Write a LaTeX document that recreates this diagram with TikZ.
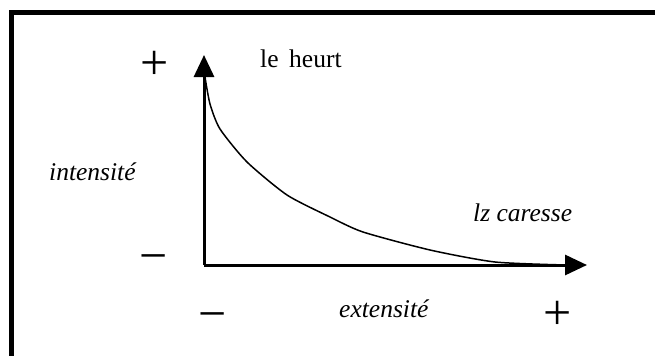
\documentclass[tikz,border=0pt]{standalone}
\usepackage{fontspec}
\setmainfont{Liberation Serif}
\usetikzlibrary{arrows.meta}

\tikzset{
  lbl/.style={font=\fontsize{25.5}{30}\selectfont, inner sep=0pt, anchor=base west},
  sign/.style={font=\fontsize{50}{54}\selectfont, inner sep=0pt, anchor=base},
  axis/.style={line width=3pt, -{Triangle[length=22pt,width=20pt]}},
}

\begin{document}
\begin{tikzpicture}[x=1pt, y=-1pt]
  \useasboundingbox (0,0) rectangle (655,356);

  % frame (only top and left edges show)
  \draw[line width=5pt, line join=miter] (655,12.5) -- (11,12.5) -- (11,356);

  % axes
  \coordinate (origin) at (204,265);
  \coordinate (ytip) at (204,55);
  \coordinate (xtip) at (587,265);
  \draw[axis] (origin) -- (ytip);
  \draw[axis] (origin) -- (xtip);

  % curve
  \draw[line width=1.5pt] plot[smooth, tension=0.4] coordinates {
    (205,77) (210,104) (220,129) (247,162) (287,195) (330,217)
    (363,232) (430,250) (495,262) (566,265)};

  % signs
  \node[sign] (yplus) at (155,79) {+};
  \node[sign] (yminus) at (154,272) {−};
  \node[sign] (xminus) at (213,330) {−};
  \node[sign] (xplus) at (558,329) {+};

  % labels
  \node[lbl] (heurt) at (260,67) {le\, heurt};
  \node[lbl, font=\fontsize{25.5}{30}\selectfont\itshape] (intensite) at (49,180) {intensité};
  \node[lbl, font=\fontsize{25.5}{30}\selectfont\itshape] (caresse) at (473,221) {lz caresse};
  \node[lbl, font=\fontsize{25.5}{30}\selectfont\itshape] (extensite) at (339,317) {extensité};
\end{tikzpicture}
\end{document}
